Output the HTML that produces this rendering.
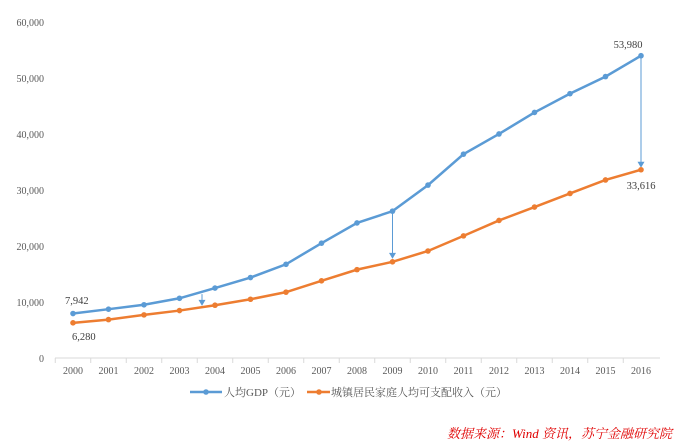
<!DOCTYPE html>
<html><head><meta charset="utf-8"><style>
body{margin:0;background:#fff;}
svg{display:block;font-family:"Liberation Serif","Noto Serif CJK SC",serif;}
</style></head><body>
<svg id="c" width="677" height="443" xmlns="http://www.w3.org/2000/svg"></svg>
<script>
const years=["2000","2001","2002","2003","2004","2005","2006","2007","2008","2009","2010","2011","2012","2013","2014","2015","2016"];
const gdp=[7942,8717,9506,10666,12487,14368,16738,20505,24121,26222,30876,36403,40007,43852,47203,50251,53980];
const income=[6280,6860,7703,8472,9422,10493,11759,13786,15781,17175,19109,21810,24565,26955,29381,31790,33616];
const yTicks=[0,10000,20000,30000,40000,50000,60000];
const NS="http://www.w3.org/2000/svg",svg=document.getElementById('c');
const x=i=>73+i*35.5, y=v=>358-v*336/60000;
function mk(t,a,txt){const e=document.createElementNS(NS,t);for(const k in a)e.setAttribute(k,a[k]);if(txt!=null)e.textContent=txt;svg.appendChild(e);return e;}
const ax=mk('line',{x1:55,x2:660,y1:358,y2:358,stroke:'#d9d9d9'});


yTicks.forEach(v=>{const t=mk('text',{x:44,y:y(v)+4,'text-anchor':'end','font-size':10,fill:'#595959'},v.toLocaleString('en-US'));

});
years.forEach((yr,i)=>{const t=mk('text',{x:x(i),y:374,'text-anchor':'middle','font-size':10,fill:'#595959'},yr);


const tk=mk('line',{x1:x(i)-17.75,x2:x(i)-17.75,y1:358,y2:363,stroke:'#d9d9d9'});

});
function series(d,c,name){const p=mk('polyline',{points:d.map((v,i)=>x(i)+','+y(v)).join(' '),fill:'none',stroke:c,'stroke-width':2.5});


d.forEach((v,i)=>{const m=mk('circle',{cx:x(i),cy:y(v),r:2.8,fill:c});

});}
// arrows
function arrow(xx,y1,y2){const l=mk('line',{x1:xx,x2:xx,y1:y1,y2:y2-5,stroke:'#5b9bd5','stroke-width':1});


const h=mk('polygon',{points:`${xx-3.5},${y2-6} ${xx+3.5},${y2-6} ${xx},${y2}`,fill:'#5b9bd5'});

}
arrow(202,(y(gdp[3])+y(gdp[4]))/2+1,(y(income[3])+y(income[4]))/2-2);
arrow(x(9),y(gdp[9]),y(income[9])-3);
arrow(x(16),y(gdp[16]),y(income[16])-2);
series(gdp,'#5b9bd5','gdp');
series(income,'#ed7d31','income');
const lab=(t,xx,yy,a)=>{const e=mk('text',{x:xx,y:yy,'text-anchor':a,'font-size':10.5,fill:'#404040'},t);

};
lab(gdp[0].toLocaleString('en-US'),65,304,'start');
lab(income[0].toLocaleString('en-US'),72,340,'start');
lab(gdp[16].toLocaleString('en-US'),628,48,'middle');
lab(income[16].toLocaleString('en-US'),641,189,'middle');
// legend
const g1=mk('line',{x1:190,x2:222,y1:392,y2:392,stroke:'#5b9bd5','stroke-width':2.5});


mk('circle',{cx:206,cy:392,r:2.8,fill:'#5b9bd5'});
const t1=mk('text',{x:224,y:396,'font-size':11,fill:'#595959'},'人均GDP（元）');


const g2=mk('line',{x1:307,x2:330,y1:392,y2:392,stroke:'#ed7d31','stroke-width':2.5});


mk('circle',{cx:319,cy:392,r:2.8,fill:'#ed7d31'});
const t2=mk('text',{x:331,y:396,'font-size':11,fill:'#595959'},'城镇居民家庭人均可支配收入（元）');


const s=mk('text',{x:672,y:438,'text-anchor':'end','font-size':13,fill:'#e00000','font-style':'italic'},'数据来源：Wind 资讯，苏宁金融研究院');


</script>
</body></html>
